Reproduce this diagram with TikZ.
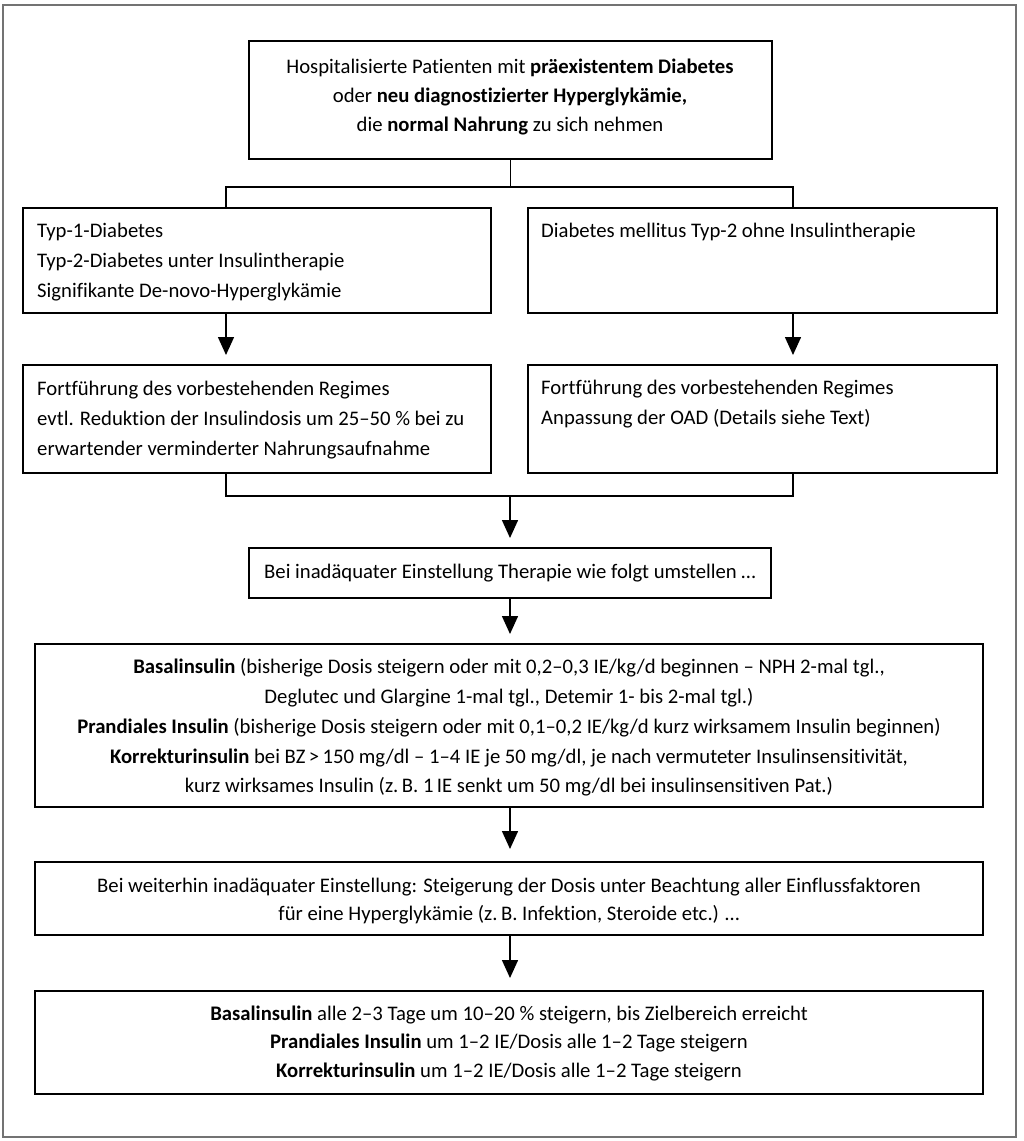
\documentclass[tikz,border=0pt]{standalone}
\usepackage{fontspec}
\setmainfont{Carlito}[Ligatures=NoCommon]
\usetikzlibrary{arrows.meta}
\begin{document}
\begin{tikzpicture}[x=1pt,y=-1pt,
  box/.style={draw=black,line width=2pt,inner sep=0pt},
  txt/.style={font=\fontsize{20.7}{29}\selectfont, align=center, inner sep=0pt},
  ltxt/.style={font=\fontsize{20.7}{30}\selectfont, align=left, anchor=west, inner sep=0pt},
  conn/.style={line width=1.5pt},
  arr/.style={conn,-{Triangle[width=16pt,length=18pt]},shorten >=9pt}]
\useasboundingbox (0,0) rectangle (1024,1141);
\draw[black!55, line width=1.5pt] (3,5) rectangle (1016,1137);
% boxes
\node[box,minimum width=523pt,minimum height=118pt] (top) at (510.5,100) {};
\node[box,minimum width=468pt,minimum height=105pt] (L1) at (257,260.5) {};
\node[box,minimum width=469pt,minimum height=105pt] (R1) at (762.5,260.5) {};
\node[box,minimum width=468pt,minimum height=108pt] (L2) at (257,419) {};
\node[box,minimum width=469pt,minimum height=108pt] (R2) at (762.5,419) {};
\node[box,minimum width=522pt,minimum height=50pt] (B3) at (510,573) {};
\node[box,minimum width=948pt,minimum height=163pt] (B4) at (509,725.5) {};
\node[box,minimum width=948pt,minimum height=73pt] (B5) at (509,898.5) {};
\node[box,minimum width=948pt,minimum height=103pt] (B6) at (509,1042.5) {};
% texts
\node[txt] (tTop) at (510,97) {Hospitalisierte Patienten mit \textbf{präexistentem Diabetes}\\ oder \textbf{neu diagnostizierter Hyperglykämie,}\\ die \textbf{normal Nahrung} zu sich nehmen};
\node[ltxt] (tL1) at (37,262) {Typ-1-Diabetes\\ Typ-2-Diabetes unter Insulintherapie\\ Signifikante De-novo-Hyperglykämie};
\node[ltxt] (tR1) at (541,232) {Diabetes mellitus Typ-2 ohne Insulintherapie};
\node[ltxt] (tL2) at (37,420) {Fortführung des vorbestehenden Regimes\\ evtl. Reduktion der Insulindosis um 25–50~\% bei zu\\ erwartender verminderter Nahrungsaufnahme};
\node[ltxt] (tR2) at (541,404.5) {Fortführung des vorbestehenden Regimes\\ Anpassung der OAD (Details siehe Text)};
\node[txt] (t3) at (510,573) {Bei inadäquater Einstellung Therapie wie folgt umstellen …};
\node[txt,font=\fontsize{20.7}{29.75}\selectfont] (t4) at (509,727.5) {\textbf{Basalinsulin} (bisherige Dosis steigern oder mit 0,2–0,3 IE/kg/d beginnen – NPH 2-mal tgl.,\\ Deglutec und Glargine 1-mal tgl., Detemir 1- bis 2-mal tgl.)\\ \textbf{Prandiales Insulin} (bisherige Dosis steigern oder mit 0,1–0,2 IE/kg/d kurz wirksamem Insulin beginnen)\\ \textbf{Korrekturinsulin} bei BZ\,>\,150 mg/dl – 1–4 IE je 50 mg/dl, je nach vermuteter Insulinsensitivität,\\ kurz wirksames Insulin (z.\,B. 1\,IE senkt um 50 mg/dl bei insulinsensitiven Pat.)};
\node[txt,font=\fontsize{20.7}{28}\selectfont] (t5) at (509,901) {Bei weiterhin inadäquater Einstellung: Steigerung der Dosis unter Beachtung aller Einflussfaktoren\\ für eine Hyperglykämie (z.\,B. Infektion, Steroide etc.) …};
\node[txt,font=\fontsize{20.7}{28.5}\selectfont] (t6) at (509,1043.5) {\textbf{Basalinsulin} alle 2–3 Tage um 10–20~\% steigern, bis Zielbereich erreicht\\ \textbf{Prandiales Insulin} um 1–2 IE/Dosis alle 1–2 Tage steigern\\ \textbf{Korrekturinsulin} um 1–2 IE/Dosis alle 1–2 Tage steigern};
% connectors
\coordinate (sl) at (226,187);
\coordinate (sr) at (793,187);
\coordinate (ml) at (226,496);
\coordinate (mr) at (793,496);
\draw[conn] (top.south) -- (top.south |- sl);
\draw[conn] (L1.north -| sl) -- (sl) -- (sr) -- (R1.north -| sr);
\draw[arr] (L1.south -| sl) -- (L2.north -| sl);
\draw[arr] (R1.south -| sr) -- (R2.north -| sr);
\draw[conn] (L2.south -| ml) -- (ml) -- (mr) -- (R2.south -| mr);
\draw[arr] (B3.north |- ml) -- (B3.north);
\draw[arr] (B3.south) -- (B4.north -| B3.south);
\draw[arr,shorten >=12pt] (B4.south -| B3.south) -- (B5.north -| B3.south);
\draw[arr,shorten >=12pt] (B5.south -| B3.south) -- (B6.north -| B3.south);
\end{tikzpicture}
\end{document}
